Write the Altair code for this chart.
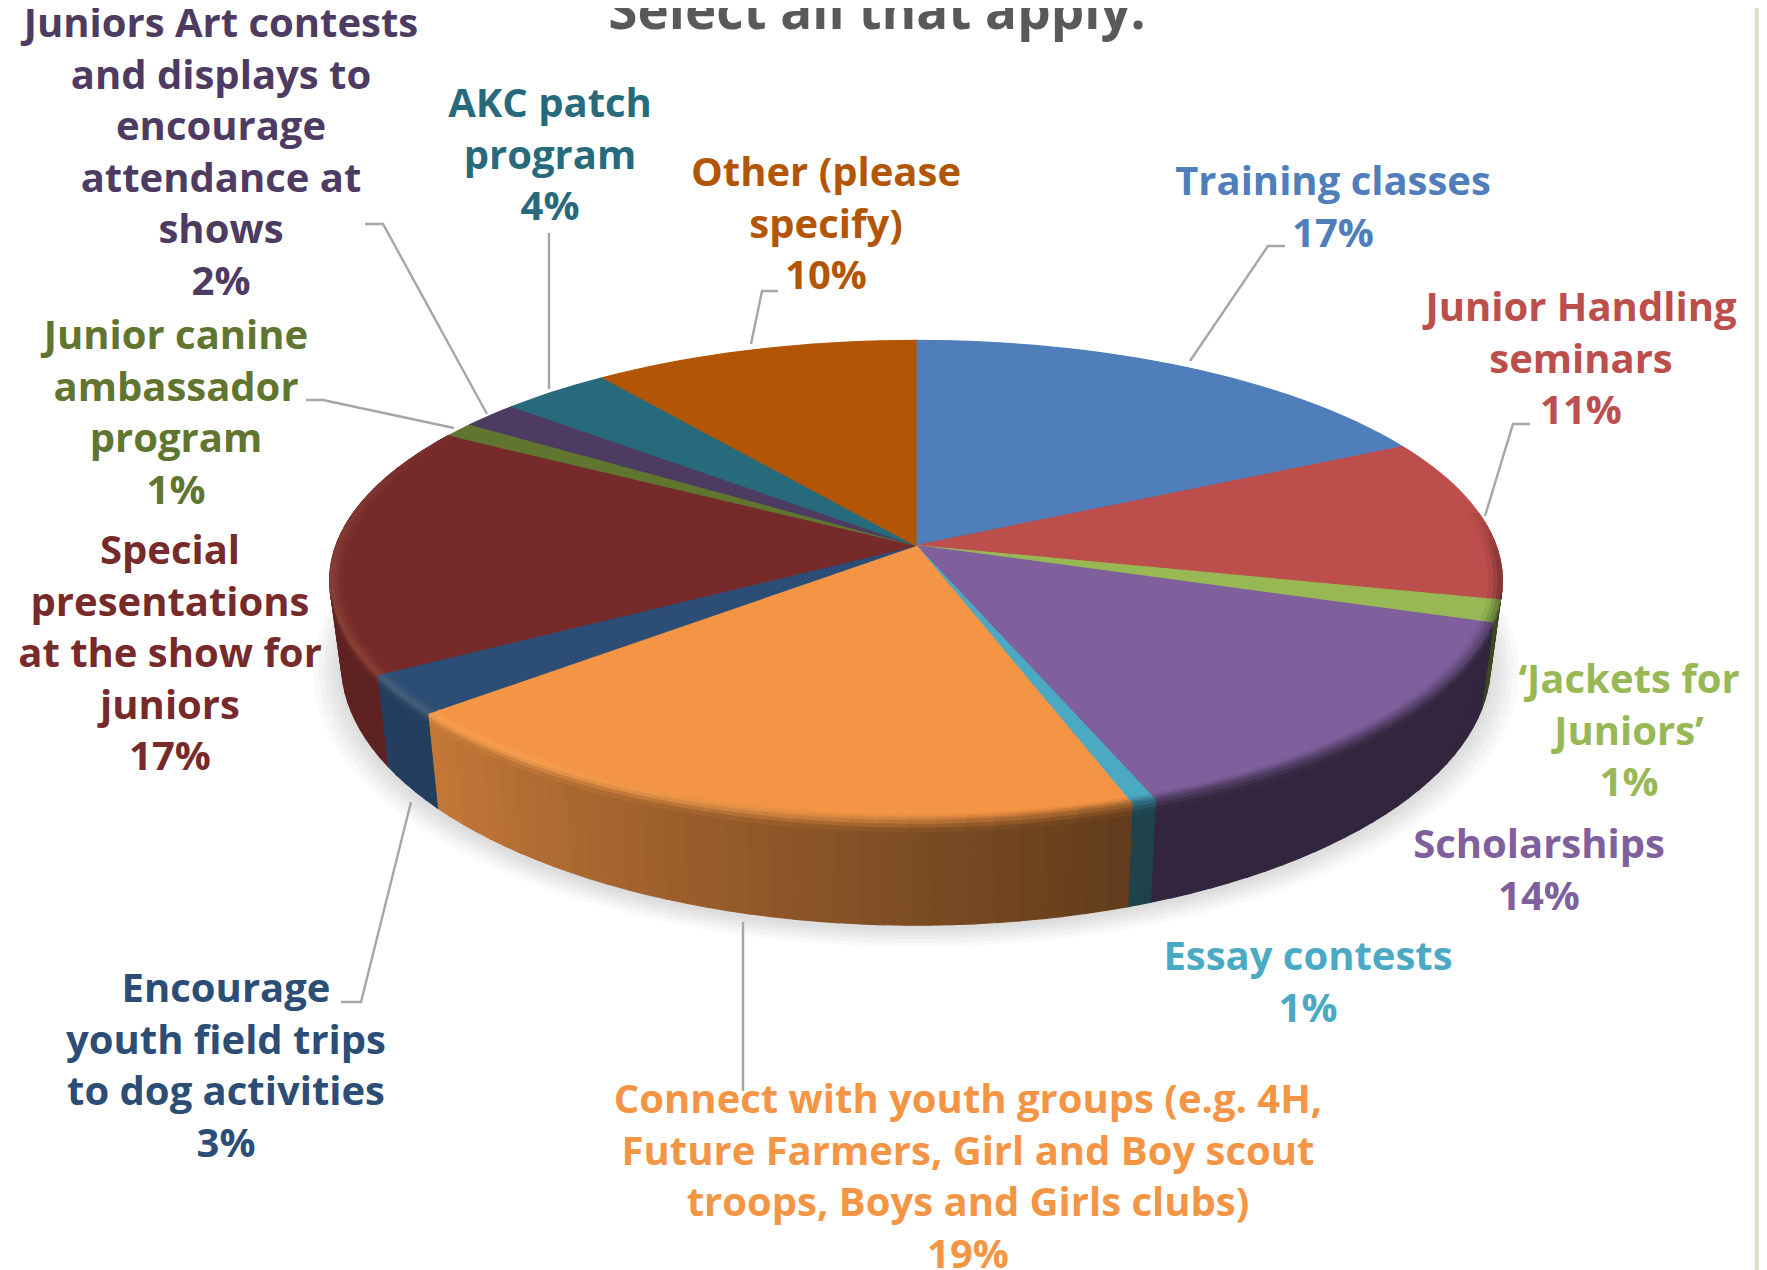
import math
import altair as alt

# ---- chart content ----
categories = ["Training classes", "Junior Handling seminars", "'Jackets for Juniors'", "Scholarships",
              "Essay contests", "Connect with youth groups", "Encourage youth field trips",
              "Special presentations", "Junior canine ambassador program", "Juniors Art contests",
              "AKC patch program", "Other (please specify)"]
slice_values = [17.6, 11.0, 1.5, 14.1, 0.6, 19.0, 2.7, 16.9, 1.0, 1.8, 3.5, 10.3]
face_colors = ["#4F7EBA", "#BC4E4B", "#98B855", "#7F609C", "#4BA9C4", "#F49545",
               "#2C4D75", "#772A2A", "#5F7530", "#4D3B62", "#276A7C", "#B25606"]

label_lines = [
    ["Training classes", "17%"],
    ["Junior Handling", "seminars", "11%"],
    ["\u2018Jackets for", "Juniors\u2019", "1%"],
    ["Scholarships", "14%"],
    ["Essay contests", "1%"],
    ["Connect with youth groups (e.g. 4H,", "Future Farmers, Girl and Boy scout", "troops, Boys and Girls clubs)", "19%"],
    ["Encourage", "youth field trips", "to dog activities", "3%"],
    ["Special", "presentations", "at the show for", "juniors", "17%"],
    ["Junior canine", "ambassador", "program", "1%"],
    ["Juniors Art contests", "and displays to", "encourage", "attendance at", "shows", "2%"],
    ["AKC patch", "program", "4%"],
    ["Other (please", "specify)", "10%"],
]
label_cx = [1333, 1581, 1629, 1539, 1308, 968, 226, 170, 176, 221, 550, 826]
label_y0 = [183, 309, 681, 846, 958, 1101, 990, 552, 337, 25, 105, 174]
line_step = 51.6

leaders = [
    [(1190, 361), (1268, 246), (1285, 246)],
    [(1485, 516), (1513, 424), (1530, 424)],
    [(751, 344), (762, 291), (778, 291)],
    [(549, 389), (549, 233)],
    [(487, 414), (383, 224), (365, 224)],
    [(454, 428), (323, 400), (306, 400)],
    [(411, 802), (361, 1002), (341, 1002)],
    [(743, 922), (743, 1091)],
]

title_text = "Select all that apply."

# ---- pie projection parameters ----
CX, CY = 916, 545.5
A, C, K = 580.0, 235.0, 0.146
DEPTH = 110.0


def ring(theta_deg, s=1.0, d=0.0):
    t = math.radians(theta_deg)
    w = 1 + K * math.cos(t)
    sb = s * (1 - 0.02 * d / DEPTH)
    de = d * (0.854 / w) ** 2
    return (CX + A * sb * math.sin(t) / w, CY - C * sb * math.cos(t) / w + de)


def rgb(h):
    return [int(h[i:i + 2], 16) for i in (1, 3, 5)]


def mix(a, b, f):
    return [a[i] + (b[i] - a[i]) * f for i in range(3)]


def hexc(c):
    return "#%02x%02x%02x" % tuple(int(max(0, min(255, round(v)))) for v in c)


def clamp(v):
    return max(0.0, min(1.0, v))


rows = []
pid = [0]


def poly(points, col):
    pid[0] += 1
    for i, (x, y) in enumerate(points + points[:1]):
        rows.append({"p": pid[0], "i": i, "x": round(x, 2), "y": round(y, 2), "c": col})


# soft shadow under the pie
for n, (e, col) in enumerate([(0.050, "#f9f9f9"), (0.040, "#f3f3f3"), (0.030, "#ececec"),
                              (0.022, "#e7e7e7"), (0.014, "#e2e2e2"), (0.006, "#dddddd")]):
    poly([ring(a, 1 + e, DEPTH + 2 + e * 120) for a in range(0, 360, 4)], col)

# angular extents from the values
total = sum(slice_values)
edges = [0.0]
for v in slice_values:
    edges.append(edges[-1] + v / total * 360)


def steps(a, b, size=2.0):
    n = max(1, int(math.ceil((b - a) / size)))
    return [a + (b - a) * i / n for i in range(n + 1)]


def wall_factor(th):
    return 0.39 + 0.41 * clamp((th - 160) / 68)


# side walls
for k, base in enumerate(face_colors):
    a, b = edges[k], edges[k + 1]
    if b < 90 or a > 300:
        continue
    st = steps(max(a, 85), min(b, 300))
    for t0, t1 in zip(st, st[1:]):
        col = hexc([v * wall_factor((t0 + t1) / 2) for v in rgb(base)])
        poly([ring(t0), ring(t1), ring(t1, 1, DEPTH), ring(t0, 1, DEPTH)], col)

# top faces
for k, base in enumerate(face_colors):
    a, b = edges[k], edges[k + 1]
    poly([(CX, CY)] + [ring(t) for t in steps(a, b)], base)

# bevel along the rim
for k, base in enumerate(face_colors):
    a, b = edges[k], edges[k + 1]
    if b < 82 or a > 300:
        continue
    face = rgb(base)
    st = steps(max(a, 82), min(b, 300), 2.5)
    for t0, t1 in zip(st, st[1:]):
        tm = (t0 + t1) / 2
        wall = [v * wall_factor(tm) for v in face]
        h = clamp((tm - 165) / 50)
        dark = mix(face, wall, 0.55)
        light = mix(face, [255, 225, 150], 0.13)
        rim = mix(dark, light, h)
        fade = clamp((tm - 80) / 15) * clamp((305 - tm) / 45)
        rim = mix(face, rim, fade)
        prof = [(0.978, 0, face), (0.986, 0, mix(face, rim, 0.35)), (0.993, 0, mix(face, rim, 0.7)), (1.0, 0, rim)]
        if 100 < tm < 258:
            prof += [(1.0, 4, mix(rim, wall, 0.4)), (1.0, 8, mix(rim, wall, 0.75)), (1.0, 12, wall)]
        for (s0, d0, c0), (s1, d1, c1) in zip(prof, prof[1:]):
            poly([ring(t0, s0, d0), ring(t1, s0, d0), ring(t1, s1, d1), ring(t0, s1, d1)],
                 hexc(mix(c0, c1, 0.5)))

XS = alt.Scale(domain=[8, 1759], range=[0, 1751])
YS = alt.Scale(domain=[8, 1270], range=[0, 1262])
X = alt.X("x:Q", scale=XS, axis=None)
Y = alt.Y("y:Q", scale=YS, axis=None)

pie = alt.Chart(alt.Data(values=rows)).mark_line(strokeWidth=1.2, clip=True).encode(
    x=X, y=Y, detail="p:N", order="i:Q",
    fill=alt.Fill("c:N", scale=None), stroke=alt.Stroke("c:N", scale=None))

leader_rows = [{"g": g, "i": i, "x": x, "y": y} for g, pts in enumerate(leaders) for i, (x, y) in enumerate(pts)]
leader_chart = alt.Chart(alt.Data(values=leader_rows)).mark_line(color="#a6a6a6", strokeWidth=2.4).encode(
    x=X, y=Y, detail="g:N", order="i:Q")

text_rows = []
for lines, cx, y0, col in zip(label_lines, label_cx, label_y0, face_colors):
    for n, line in enumerate(lines):
        text_rows.append({"t": line, "x": cx, "y": y0 + n * line_step, "c": col})
labels = alt.Chart(alt.Data(values=text_rows)).mark_text(
    font="Open Sans", fontWeight="bold", fontSize=40, align="center", baseline="middle").encode(
    x=X, y=Y, text="t:N", color=alt.Color("c:N", scale=None))

title = alt.Chart(alt.Data(values=[{"t": title_text, "x": 877, "y": 13}])).mark_text(
    font="Open Sans", fontWeight="bold", fontSize=53, color="#595959", align="center", baseline="middle").encode(
    x=X, y=Y, text="t:N")

strip = alt.Chart(alt.Data(values=[{"x": 1755, "x2": 1758, "c": "#d9d9d9"}, {"x": 1758, "x2": 1759, "c": "#e3ebc8"}])).mark_rect().encode(
    x=X, x2="x2:Q", color=alt.Color("c:N", scale=None))

chart = alt.layer(strip, pie, leader_chart, labels, title).properties(
    width=1751, height=1262, padding=0, autosize=alt.AutoSizeParams(type="none"),
    background="white").configure_view(stroke=None)

chart.save("out.html", embed_options={"renderer": "svg", "actions": False})
